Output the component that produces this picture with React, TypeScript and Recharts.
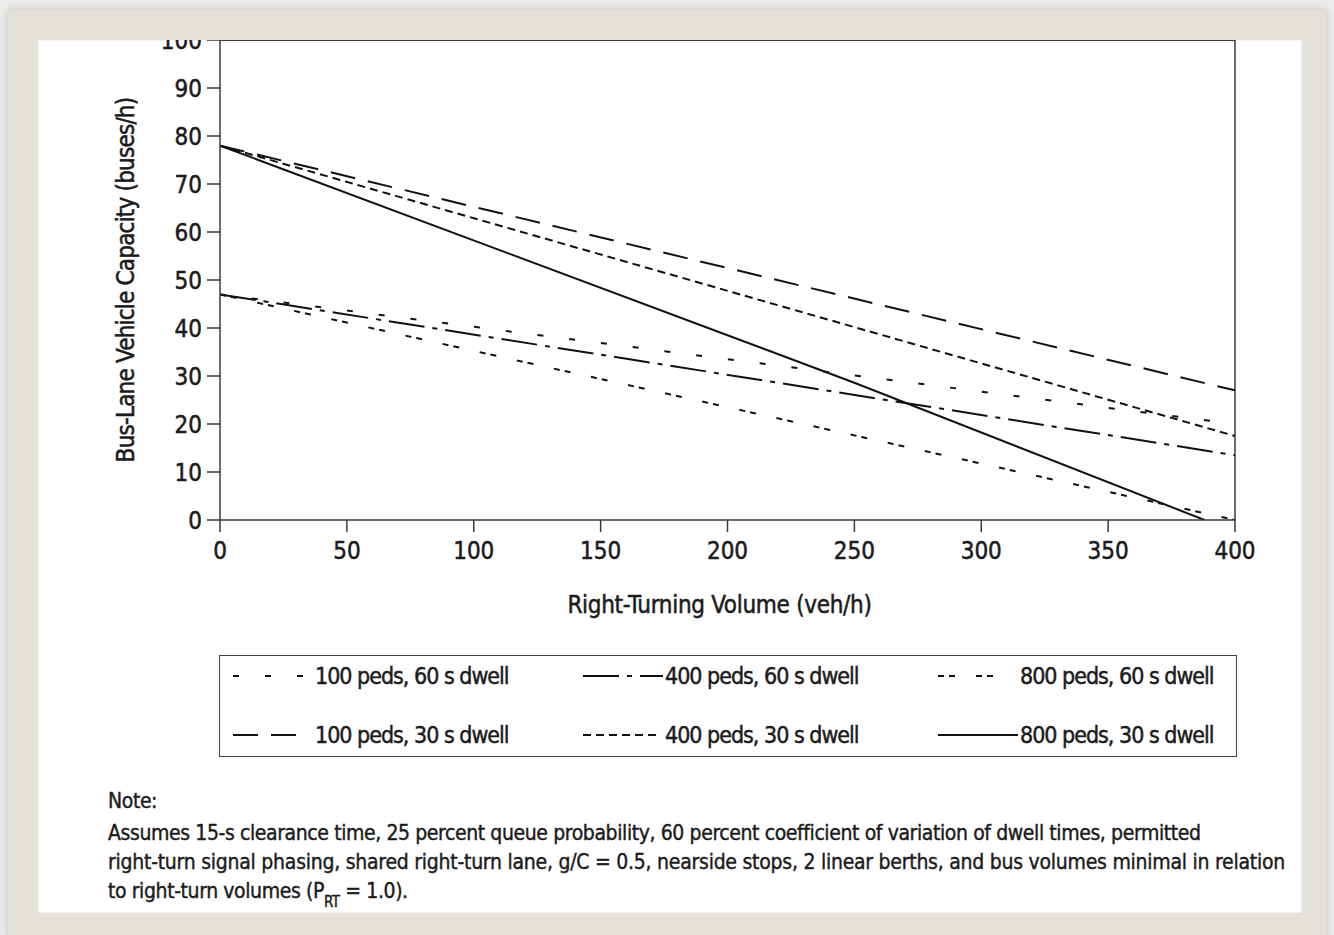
import React from 'react';
import { LineChart, Line, XAxis, YAxis, ReferenceLine } from 'recharts';

// ---- data ----
const xTicks = [0, 50, 100, 150, 200, 250, 300, 350, 400];
const yTicks = [0, 10, 20, 30, 40, 50, 60, 70, 80, 90, 100];

const volumeEnds = [0, 400];
const cap100p60 = [47, 20];
const cap400p60 = [47, 13.5];
const cap800p60 = [47, 0];
const cap100p30 = [78, 27];
const cap400p30 = [78, 17.5];
const volume800p30 = [0, 250, 388];
const cap800p30 = [78, 28.6, 0];

const seriesNames = [
  '100 peds, 60 s dwell',
  '400 peds, 60 s dwell',
  '800 peds, 60 s dwell',
  '100 peds, 30 s dwell',
  '400 peds, 30 s dwell',
  '800 peds, 30 s dwell',
];

const noteTitle = 'Note:';
const noteLines = [
  'Assumes 15-s clearance time, 25 percent queue probability, 60 percent coefficient of variation of dwell times, permitted',
  'right-turn signal phasing, shared right-turn lane, g/C = 0.5, nearside stops, 2 linear berths, and bus volumes minimal in relation',
  'to right-turn volumes (',
];

const toPoints = (xs: number[], ys: number[]) => xs.map((x, i) => ({ x, y: ys[i] }));

const series = [
  { name: seriesNames[0], data: toPoints(volumeEnds, cap100p60), dash: '6 26', sample: 72 },
  { name: seriesNames[1], data: toPoints(volumeEnds, cap400p60), dash: '36 8 5 8', sample: 80 },
  { name: seriesNames[2], data: toPoints(volumeEnds, cap800p60), dash: '6 5 6 21', sample: 62 },
  { name: seriesNames[3], data: toPoints(volumeEnds, cap100p30), dash: '25 13', sample: 64 },
  { name: seriesNames[4], data: toPoints(volumeEnds, cap400p30), dash: '8 5', sample: 73 },
  { name: seriesNames[5], data: toPoints(volume800p30, cap800p30), dash: undefined as string | undefined, sample: 80 },
];

const FONT = "'DejaVu Sans Condensed', 'Liberation Sans Narrow', sans-serif";
const INK = '#1b1b1b';
const AXIS = '#3a3a3a';

const legendCols = [233, 583, 938];
const legendRows = [676, 735];

const svgText = { fill: INK, stroke: INK, strokeWidth: 0.5, fontSize: 24, fontFamily: FONT };

export default function App() {
  return (
    <div style={{ position: 'absolute', left: 0, top: 0, width: 1334, height: 935, background: '#ebebeb', overflow: 'hidden', fontFamily: FONT }}>
      {/* beige frame */}
      <div style={{ position: 'absolute', left: 8, top: 10, width: 1318, height: 930, background: '#e3e1da', boxShadow: '0 0 8px rgba(0,0,0,0.18)' }} />
      {/* white panel */}
      <div style={{ position: 'absolute', left: 38, top: 40, width: 1264, height: 873, background: '#ffffff', boxShadow: 'inset 0 0 3px rgba(0,0,0,0.12)' }} />

      {/* chart */}
      <div style={{ position: 'absolute', left: 0, top: 0, width: 1334, height: 935, clipPath: 'inset(40px 32px 22px 38px)' }}>
        <LineChart width={1334} height={935} margin={{ top: 40, right: 99, left: 30, bottom: 247 }}>
          <XAxis
            dataKey="x"
            type="number"
            domain={[0, 400]}
            ticks={xTicks}
            allowDataOverflow
            height={168}
            tickSize={12}
            tickMargin={10}
            stroke={AXIS}
            strokeWidth={1.5}
            tick={svgText}
            label={{ value: 'Right-Turning Volume (veh/h)', position: 'center', ...svgText, dx: -8, style: { letterSpacing: '-0.3px' } }}
          />
          <YAxis
            type="number"
            domain={[0, 100]}
            ticks={yTicks}
            allowDataOverflow
            width={190}
            tickSize={13}
            tickMargin={5}
            stroke={AXIS}
            strokeWidth={1.5}
            tick={svgText}
            label={{ value: 'Bus-Lane Vehicle Capacity (buses/h)', angle: -90, position: 'center', ...svgText, style: { letterSpacing: '-0.8px' } }}
          />
          <ReferenceLine y={100} stroke={AXIS} strokeWidth={2} />
          <ReferenceLine x={400} stroke={AXIS} strokeWidth={1.5} />
          {series.map((s) => (
            <Line
              key={s.name}
              name={s.name}
              data={s.data}
              dataKey="y"
              type="linear"
              stroke="#111"
              strokeWidth={2}
              strokeDasharray={s.dash}
              dot={false}
              activeDot={false}
              isAnimationActive={false}
            />
          ))}
        </LineChart>
      </div>

      {/* legend */}
      <div style={{ position: 'absolute', left: 219, top: 655, width: 1016, height: 100, border: '1.5px solid #444' }} />
      {series.map((s, i) => {
        const left = legendCols[i % 3];
        const cy = legendRows[Math.floor(i / 3)];
        return (
          <div key={s.name} style={{ position: 'absolute', left, top: cy - 14, height: 28, display: 'flex', alignItems: 'center', whiteSpace: 'nowrap' }}>
            <svg width={80} height={28} style={{ display: 'block' }}>
              <line x1={0} y1={14} x2={s.sample} y2={14} stroke="#111" strokeWidth={2} strokeDasharray={s.dash} />
            </svg>
            <span style={{ fontSize: 23, color: INK, marginLeft: 2, letterSpacing: '-1px', WebkitTextStroke: '0.45px #1b1b1b' }}>{s.name}</span>
          </div>
        );
      })}

      {/* note */}
      <div style={{ position: 'absolute', left: 108, top: 787, width: 1200, fontSize: 21, lineHeight: '29px', color: INK, letterSpacing: '-0.4px', whiteSpace: 'nowrap', WebkitTextStroke: '0.4px #1b1b1b' }}>
        <div style={{ marginBottom: 3 }}>{noteTitle}</div>
        <div>{noteLines[0]}</div>
        <div style={{ letterSpacing: '-0.25px' }}>{noteLines[1]}</div>
        <div>
          {noteLines[2]}P<span style={{ display: 'inline-block', fontSize: 15, lineHeight: '15px', verticalAlign: -9 }}>RT</span> = 1.0).
        </div>
      </div>
    </div>
  );
}
